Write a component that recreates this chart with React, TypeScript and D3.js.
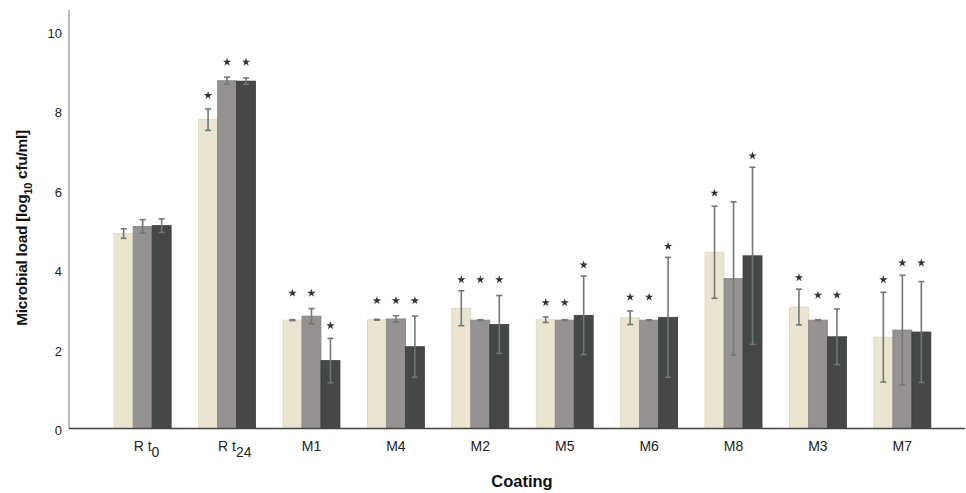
import React from "react";
import * as d3 from "d3";

const catMain = ["R t", "R t", "M1", "M4", "M2", "M5", "M6", "M8", "M3", "M7"];
const catSub = ["0", "24", "", "", "", "", "", "", "", ""];
const seriesNames = ["light", "medium", "dark"];

const lightMean = [4.91, 7.78, 2.73, 2.74, 3.03, 2.74, 2.79, 4.44, 3.06, 2.3];
const lightErr = [0.12, 0.27, 0.01, 0.01, 0.44, 0.07, 0.17, 1.16, 0.45, 1.13];
const mediumMean = [5.09, 8.76, 2.83, 2.76, 2.73, 2.73, 2.73, 3.78, 2.73, 2.48];
const mediumErr = [0.17, 0.09, 0.19, 0.08, 0.01, 0.01, 0.01, 1.93, 0.01, 1.38];
const darkMean = [5.11, 8.75, 1.71, 2.06, 2.62, 2.85, 2.8, 4.35, 2.31, 2.43];
const darkErr = [0.17, 0.08, 0.56, 0.77, 0.73, 0.99, 1.51, 2.23, 0.7, 1.27];

const lightStar = [null, 8.39, 3.41, 3.22, 3.75, 3.17, 3.31, 5.93, 3.8, 3.75];
const mediumStar = [null, 9.23, 3.41, 3.22, 3.75, 3.17, 3.31, null, 3.36, 4.17];
const darkStar = [null, 9.23, 2.59, 3.22, 3.75, 4.12, 4.59, 6.87, 3.36, 4.17];

const yTicks = [0, 2, 4, 6, 8, 10];

const colors = ["#EAE4D0", "#969291", "#464748"];
const strokes = ["#DDD6C0", "#888483", "#3A3B3C"];

const FONT = "'Liberation Sans', Arial, sans-serif";

function measure(text: string, font: string): number {
  if (typeof document === "undefined") return text.length * 7;
  const c = document.createElement("canvas");
  const ctx = c.getContext("2d");
  if (!ctx) return text.length * 7;
  ctx.font = font;
  return ctx.measureText(text).width;
}

export default function App() {
  const W = 966;
  const H = 493;
  const x0 = 69;
  const baseY = 428.5;

  const y = d3.scaleLinear().domain([0, 10]).range([baseY, 31.5]);
  const x = d3
    .scaleBand<number>()
    .domain(catMain.map((_, i) => i))
    .range([x0, 976])
    .paddingInner(0.325)
    .paddingOuter(0.535);
  const xs = d3
    .scaleBand<number>()
    .domain([0, 1, 2])
    .range([0, x.bandwidth()]);

  const means = [lightMean, mediumMean, darkMean];
  const errs = [lightErr, mediumErr, darkErr];
  const stars = [lightStar, mediumStar, darkStar];
  const starPath = d3.symbol().type(d3.symbolStar).size(22)() as string;

  const bars: React.ReactNode[] = [];
  const errorBars: React.ReactNode[] = [];
  const starMarks: React.ReactNode[] = [];

  catMain.forEach((_, i) => {
    seriesNames.forEach((s, k) => {
      const bx = (x(i) as number) + (xs(k) as number);
      const bw = xs.bandwidth();
      const m = means[k][i];
      const e = errs[k][i];
      const cx = bx + bw / 2;
      bars.push(
        <rect
          key={`b${i}-${k}`}
          x={bx}
          y={y(m)}
          width={bw}
          height={baseY - y(m)}
          fill={colors[k]}
          stroke={strokes[k]}
          strokeWidth={0.8}
        />
      );
      const yt = y(m + e);
      const yb = y(m - e);
      errorBars.push(
        <g key={`e${i}-${k}`} stroke="#6E7A73" strokeWidth={1.6}>
          <line x1={cx} x2={cx} y1={yt} y2={yb} />
          <line x1={cx - 3} x2={cx + 3} y1={yt} y2={yt} />
          <line x1={cx - 3} x2={cx + 3} y1={yb} y2={yb} />
        </g>
      );
      const st = stars[k][i];
      if (st !== null) {
        starMarks.push(
          <path
            key={`s${i}-${k}`}
            d={starPath}
            transform={`translate(${cx},${y(st)})`}
            fill="#333"
          />
        );
      }
    });
  });

  const tickFont = `14px ${FONT}`;

  return (
    <svg
      width={W}
      height={H}
      style={{ position: "absolute", left: 0, top: 0, background: "#fff" }}
      fontFamily={FONT}
    >
      <rect x={0} y={0} width={W} height={H} fill="#fff" />
      <line x1={x0} x2={x0} y1={10} y2={baseY} stroke="#8E8E8E" strokeWidth={1.2} />
      {yTicks.map((t) => (
        <text
          key={`yt${t}`}
          x={62}
          y={y(t) + 2}
          textAnchor="end"
          dominantBaseline="central"
          fontSize={13}
          fill="#222"
        >
          {t}
        </text>
      ))}
      {bars}
      {errorBars}
      {starMarks}
      <line x1={x0} x2={965} y1={baseY} y2={baseY} stroke="#444" strokeWidth={1.5} />
      {catMain.map((c, i) => {
        const cx = (x(i) as number) + x.bandwidth() / 2;
        if (!catSub[i]) {
          return (
            <text key={`xl${i}`} x={cx} y={451} textAnchor="middle" fontSize={14} fill="#222">
              {c}
            </text>
          );
        }
        const w = measure(c, tickFont);
        return (
          <text key={`xl${i}`} x={cx - w / 2} y={451} textAnchor="start" fontSize={14} fill="#222">
            {c}
            <tspan dy={6} fontSize={14}>
              {catSub[i]}
            </tspan>
          </text>
        );
      })}
      <text
        x={522}
        y={487}
        textAnchor="middle"
        fontSize={16.5}
        fontWeight="bold"
        fill="#111"
      >
        Coating
      </text>
      <text
        transform={`translate(27,228) rotate(-90)`}
        textAnchor="middle"
        fontSize={15.5}
        fontWeight="bold"
        fill="#111"
        letterSpacing={-0.3}
      >
        Microbial load [log
        <tspan dy={5} fontSize={11}>
          10
        </tspan>
        <tspan dy={-5}> cfu/ml]</tspan>
      </text>
    </svg>
  );
}
